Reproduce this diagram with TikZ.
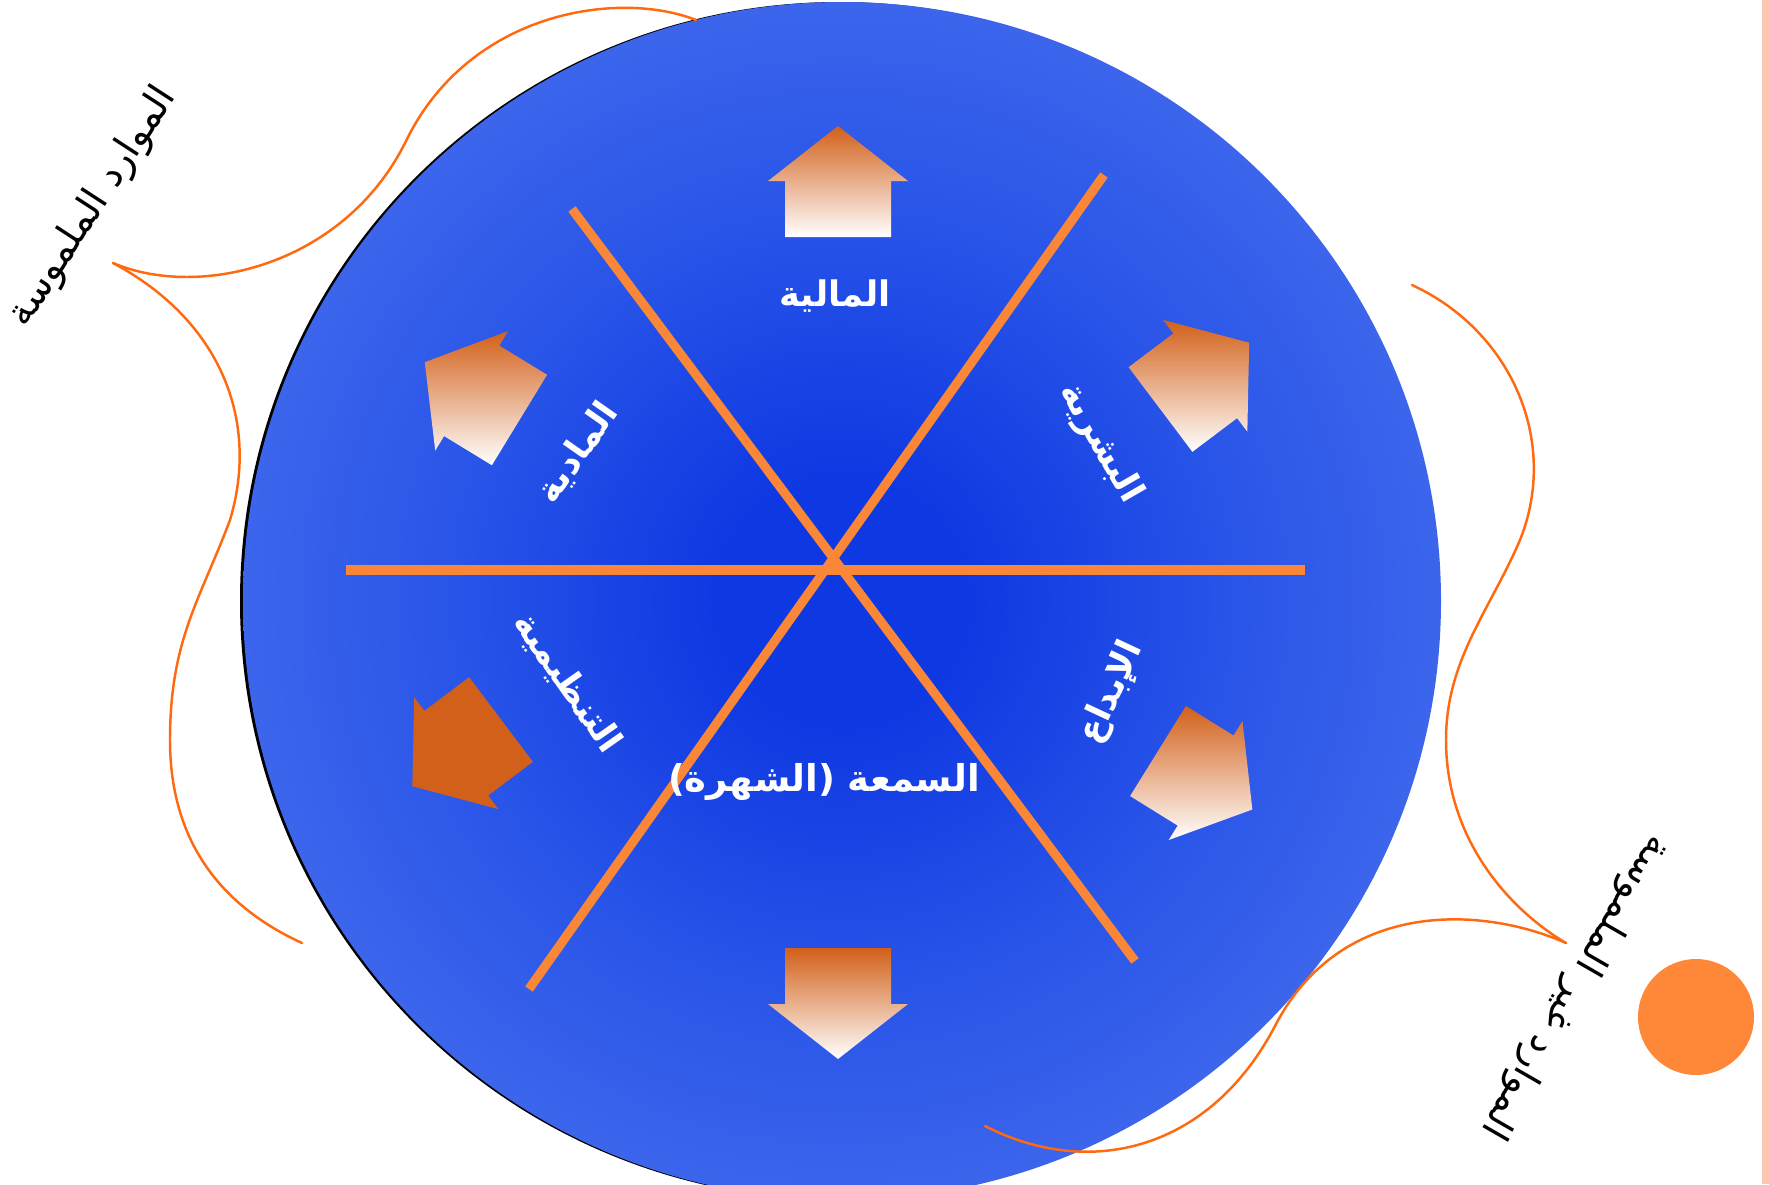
\documentclass[tikz,border=0pt]{standalone}
\usepackage{fontspec}
\newfontfamily\arabicfont[Script=Arabic]{DejaVu Sans}
\TeXXeTstate=1
\usepackage{xcolor}

\definecolor{spokeorange}{RGB}{250,135,55}
\definecolor{waveorange}{RGB}{255,106,16}
\definecolor{housebrown}{RGB}{210,96,26}
\definecolor{dotorange}{RGB}{255,136,56}
\definecolor{stripepink}{RGB}{255,197,179}
\definecolor{coreblue}{RGB}{14,56,226}
\definecolor{midblue}{RGB}{40,84,232}
\definecolor{rimblue}{RGB}{60,101,236}
\pgfdeclareradialshading{discglow}{\pgfpoint{0bp}{0bp}}{color(0bp)=(coreblue);color(5bp)=(coreblue);color(16bp)=(midblue);color(25bp)=(rimblue);color(50bp)=(rimblue)}

% house arrow: x, y of the shaft end, angle, style
\newcommand\housearrow[4]{%
  \path[#4,shift={(#1,#2)},rotate=#3] (0,-53) -- (56,-53) -- (56,-70) -- (111,0)
    -- (56,70) -- (56,53) -- (0,53) -- cycle;}

\begin{document}
\begin{tikzpicture}[x=0.01cm,y=-0.01cm,line cap=round,
  spoke/.style={spokeorange,line width=2.6pt,line cap=butt},
  wave/.style={waveorange,line width=0.7pt},
  housefade/.style={top color=housebrown,bottom color=white},
  inlabel/.style={text=white,inner sep=0pt,font=\arabicfont\bfseries\fontsize{10}{12}\selectfont},
  outlabel/.style={text=black,inner sep=0pt,font=\arabicfont\fontsize{11}{13}\selectfont}]
\useasboundingbox (0,0) rectangle (1769,1184);
\fill[stripepink] (1762,0) rectangle (1769,1184);

% the disc
\fill[black] (839,601) circle (599);
\shade[shading=discglow] (842,601) circle (599);

% spokes
\coordinate (h1) at (346,570);
\coordinate (h2) at (1305,570);
\coordinate (d1) at (572,209);
\coordinate (d2) at (1135,961);
\coordinate (e1) at (1104,175);
\coordinate (e2) at (529,989);
\draw[spoke] (h1) -- (h2);
\draw[spoke] (d1) -- (d2);
\draw[spoke] (e1) -- (e2);

% arrows
\housearrow{838}{237}{90}{housefade}
\housearrow{838}{948}{-90}{housefade}
\housearrow{519.5}{420}{148.6}{housefade}
\housearrow{1160.5}{409.5}{37}{housefade}
\housearrow{1158}{751}{-31.8}{housefade}
\housearrow{501}{719.5}{-143}{fill=housebrown}

% labels inside
\node[inlabel] (fin) at (835,296) {\beginR المالية\endR};
\node[inlabel,rotate=55] (mat) at (578,453) {\beginR المادية\endR};
\node[inlabel,rotate=-60] (hum) at (1100,443) {\beginR البشرية\endR};
\node[inlabel,rotate=-55] (org) at (567,683) {\beginR التنظيمية\endR};
\node[inlabel,rotate=65] (inn) at (1112,693) {\beginR الإبداع\endR};
\node[inlabel,font=\arabicfont\bfseries\fontsize{10.5}{13}\selectfont] (rep) at (824,782) {\beginR السمعة (الشهرة)\endR};

% waves
\coordinate (w1) at (696,20);
\coordinate (w2) at (113,263);
\coordinate (w3) at (302,943);
\coordinate (w4) at (1412,285);
\coordinate (w5) at (1566,943);
\coordinate (w6) at (985,1126);
\draw[wave] (w1) .. controls (620,-10) and (470,10) .. (406,141)
  .. controls (345,265) and (200,300) .. (w2);
\draw[wave] (w2) .. controls (220,320) and (260,420) .. (230,520)
  .. controls (200,600) and (170,640) .. (170,740)
  .. controls (170,850) and (230,910) .. (w3);
\draw[wave] (w4) .. controls (1510,330) and (1560,440) .. (1520,540)
  .. controls (1490,610) and (1446,660) .. (1446,740)
  .. controls (1446,840) and (1510,910) .. (w5);
\draw[wave] (w5) .. controls (1480,905) and (1340,900) .. (1275,1026)
  .. controls (1210,1150) and (1090,1180) .. (w6);

% outer labels
\node[outlabel,rotate=57] (tang) at (93,207) {\beginR الموارد الملموسة\endR};
\node[outlabel,rotate=-120] (intang) at (1575,987) {\beginR الموارد غير الملموسة\endR};
\fill[dotorange] (1696,1017) circle (58);
\end{tikzpicture}
\end{document}
